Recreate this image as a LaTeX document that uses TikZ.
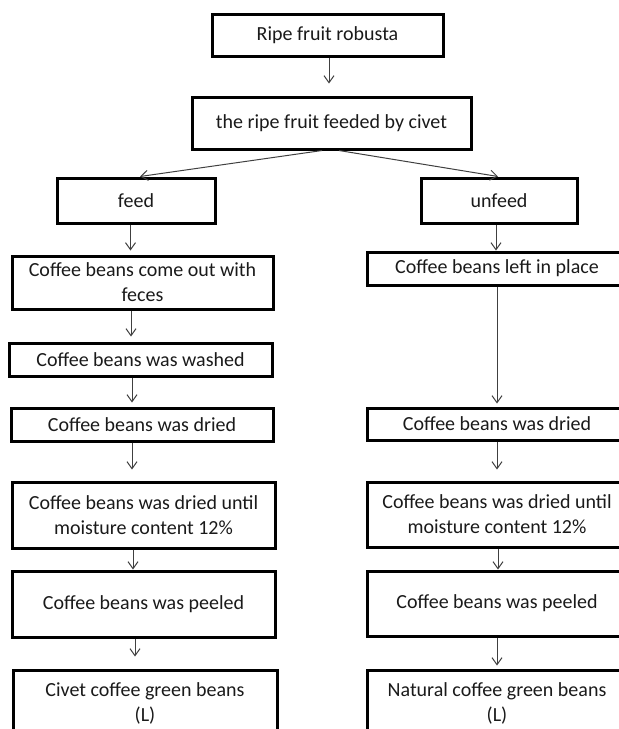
\documentclass[tikz,border=0pt]{standalone}
\usepackage{fontspec}
\setmainfont{Carlito}
\usetikzlibrary{arrows.meta}
\definecolor{arrcol}{HTML}{404040}
\definecolor{txtcol}{HTML}{1A1A1A}
\tikzset{
  box/.style={draw=black, line width=3pt, rectangle, inner sep=0pt, align=center,
    text=txtcol, font=\fontsize{20}{25}\selectfont},
  arr/.style={draw=arrcol, line width=1pt, -{Straight Barb[length=7pt,width=10pt]}},
}
\begin{document}
\begin{tikzpicture}[x=1pt,y=-1pt]
\useasboundingbox (0,0) rectangle (619,729);
\clip (0,0) rectangle (619,729);
% top
\node[box, minimum width=231pt, minimum height=42pt] (n1) at (327.5,35) {Ripe fruit robusta};
\node[box, minimum width=279pt, minimum height=52pt] (n2) at (331.5,123) {the ripe fruit feeded by civet};
\node[box, minimum width=158pt, minimum height=45pt] (feed) at (136,200.5) {feed};
\node[box, minimum width=156pt, minimum height=45pt] (unfeed) at (499,200.5) {unfeed};
% left column
\node[box, minimum width=261pt, minimum height=53pt] (L1) at (142.5,282.5) {Coffee beans come out with\\feces};
\node[box, minimum width=263pt, minimum height=33pt] (L2) at (140.5,359.5) {Coffee beans was washed};
\node[box, minimum width=262pt, minimum height=33pt] (L3) at (142,424.5) {Coffee beans was dried};
\node[box, minimum width=263pt, minimum height=66pt] (L4) at (143.5,515) {Coffee beans was dried until\\moisture content 12\%};
\node[box, minimum width=263pt, minimum height=66pt] (L5) at (143.5,604) {Coffee beans was peeled};
\node[box, minimum width=264pt, minimum height=66pt] (L6) at (145,703) {Civet coffee green beans\\(L)};
% right column
\node[box, minimum width=260pt, minimum height=33pt] (R1) at (497,268.5) {Coffee beans left in place};
\node[box, minimum width=260pt, minimum height=32pt] (R2) at (497,424) {Coffee beans was dried};
\node[box, minimum width=260pt, minimum height=65pt] (R3) at (497,514.5) {Coffee beans was dried until\\moisture content 12\%};
\node[box, minimum width=260pt, minimum height=65pt] (R4) at (497,603.5) {Coffee beans was peeled};
\node[box, minimum width=260pt, minimum height=66pt] (R5) at (497,703) {Natural coffee green beans\\(L)};
% connectors
\draw[arr, shorten >=12pt] (n1.south -| 329,0) -- (n2.north -| 329,0);
\draw[arr] ([xshift=-9.5pt]n2.south) -- ([xshift=4pt]feed.north);
\draw[arr] ([xshift=7.5pt]n2.south) -- ([xshift=-1pt]unfeed.north);
\draw[arr, shorten >=4pt] (feed.south -| 130.5,0) -- (L1.north -| 130.5,0);
\draw[arr, shorten >=5pt] (L1.south -| 131,0) -- (L2.north -| 131,0);
\draw[arr, shorten >=4pt] (L2.south -| 132,0) -- (L3.north -| 132,0);
\draw[arr, shorten >=11pt] (L3.south -| 132,0) -- (L4.north -| 132,0);
\draw[arr] (L4.south -| 133,0) -- (L5.north -| 133,0);
\draw[arr, shorten >=12pt] (L5.south -| 135,0) -- (L6.north -| 135,0);
\draw[arr] (unfeed.south -| 496,0) -- (R1.north -| 496,0);
\draw[arr, shorten >=3pt] (R1.south -| 497,0) -- (R2.north -| 497,0);
\draw[arr, shorten >=11pt] (R2.south -| 497,0) -- (R3.north -| 497,0);
\draw[arr] (R3.south -| 498,0) -- (R4.north -| 498,0);
\draw[arr, shorten >=3pt] (R4.south -| 497,0) -- (R5.north -| 497,0);
\end{tikzpicture}
\end{document}
